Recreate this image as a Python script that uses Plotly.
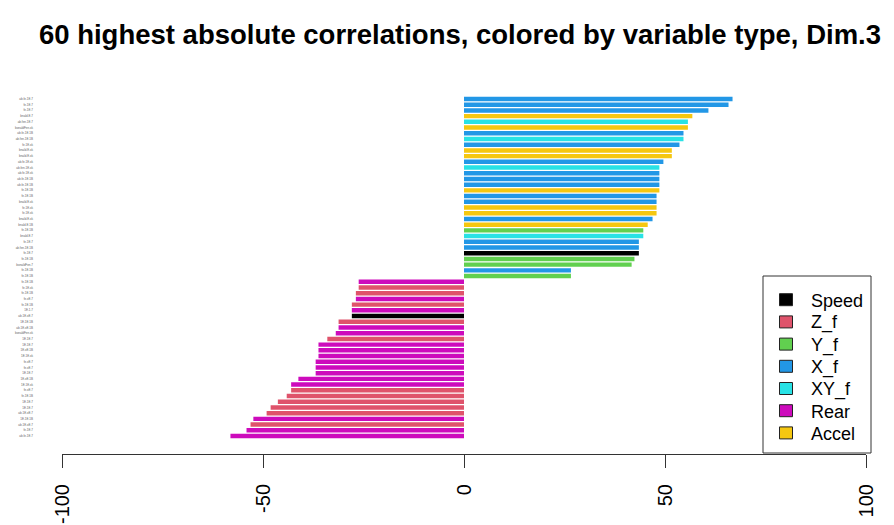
import plotly.graph_objects as go

# ---- data (top to bottom) ----
values = [66.8, 65.8, 60.8, 56.8, 55.7, 55.7, 54.6, 54.6, 53.6, 51.7,
          51.7, 49.6, 48.6, 48.6, 48.6, 48.6, 48.6, 47.9, 47.9, 47.9,
          47.9, 46.9, 45.7, 44.6, 44.6, 43.5, 43.5, 43.5, 42.4, 41.7,
          26.6, 26.6, -26.2, -26.2, -26.9, -26.9, -27.9, -27.9, -27.9, -31.2,
          -31.2, -31.9, -34.0, -36.2, -36.2, -36.2, -36.9, -36.9, -36.9, -41.2,
          -43.0, -43.0, -44.1, -46.3, -48.1, -49.1, -52.4, -53.1, -54.1, -58.1]
types = ["X_f", "X_f", "X_f", "Accel", "XY_f", "Accel", "X_f", "XY_f", "X_f", "Accel",
         "Accel", "X_f", "XY_f", "X_f", "X_f", "X_f", "Accel", "X_f", "X_f", "Accel",
         "Accel", "X_f", "Accel", "Y_f", "XY_f", "X_f", "X_f", "Speed", "Y_f", "Y_f",
         "X_f", "Y_f", "Rear", "Z_f", "Z_f", "Rear", "Z_f", "Rear", "Speed", "Z_f",
         "Rear", "Rear", "Z_f", "Rear", "Rear", "Rear", "Rear", "Rear", "Rear", "Rear",
         "Rear", "Z_f", "Z_f", "Z_f", "Z_f", "Z_f", "Rear", "Z_f", "Rear", "Rear"]
labels = ["ab.fe.1E.7", "fe.1E.7", "fe.1E.7", "bnald.E.7", "ab.fen.1E.7",
          "bonaldFen.xk", "ab.fe.1E.1B", "ab.fen.1E.1B", "fe.1E.xk", "bnald.E.xk",
          "bnald.E.xk", "ab.fe.1E.xk", "ab.fen.1E.xk", "ab.fe.1E.xk", "ab.fe.1E.1B",
          "ab.fe.1E.1B", "fe.1E.1B", "fe.1E.1B", "bnald.E.xk", "fe.1E.xk",
          "fe.1E.xk", "bnald.E.xk", "bnald.E.1B", "fe.1E.1B", "bnald.E.7",
          "fe.1E.7", "ab.fen.1E.1B", "fe.1E.7", "fe.1E.1B", "bonaldFen.7",
          "fe.1E.1B", "fe.1E.1B", "fe.1E.1B", "fe.1E.xk", "fe.1E.1B",
          "fe.xE.7", "fe.1E.1B", "1E.1.7", "ab.1E.xE.7", "1E.1E.1B",
          "ab.1E.xE.1B", "bonaldFen.xk", "1E.1E.7", "1E.1E.7", "1E.xE.1B",
          "1E.1E.xk", "fe.xE.7", "fe.xE.7", "1E.1E.7", "1E.xE.1B",
          "1E.1E.xk", "fe.xE.7", "fe.1E.1B", "1E.1E.7", "1E.1E.7",
          "ab.1E.xE.7", "1E.1E.1B", "ab.1E.xE.7", "fe.1E.7", "ab.fe.1E.7"]
legend_order = ["Speed", "Z_f", "Y_f", "X_f", "XY_f", "Rear", "Accel"]
colors = {"Speed": "#000000", "Z_f": "#DF536B", "Y_f": "#61D04F", "X_f": "#2297E6",
          "XY_f": "#28E2E5", "Rear": "#CD0BBC", "Accel": "#F5C710"}
x_ticks = [-100, -50, 0, 50, 100]
title = "60 highest absolute correlations, colored by variable type, Dim.3"

FONT = "Liberation Sans, Arial, sans-serif"
idx = list(range(len(values)))
fig = go.Figure()
for t in legend_order:
    xs = [v for v, tt in zip(values, types) if tt == t]
    ys = [i for i, tt in zip(idx, types) if tt == t]
    fig.add_trace(go.Bar(x=xs, y=ys, orientation="h", width=0.78,
                         marker=dict(color=colors[t], line=dict(width=0)),
                         showlegend=False, name=t, hoverinfo="x+name"))

# page offset (browser body margin) compensation
OFF = 8
W, H = 894 - OFF, 525 - OFF
# plot area in reference (window) pixels
PL, PR, PT, PB = 62, 866, 90, 454
pitch = (436 - 99) / 59.0
y_top = 0 - (99 - PT) / pitch
y_bot = 59 + (PB - 436) / pitch


def px(xw):
    return (xw - PL) / (PR - PL)


def py(yw):
    return (PB - yw) / (PB - PT)


# legend drawn as box + swatches + labels (window pixel geometry)
shapes = [dict(type="rect", xref="paper", yref="paper",
               x0=px(763), x1=px(871), y0=py(453), y1=py(276),
               line=dict(color="#333", width=1), fillcolor="white", layer="above")]
annotations = []
for k, t in enumerate(legend_order):
    cy = 299.7 + 22.2 * k
    shapes.append(dict(type="rect", xref="paper", yref="paper",
                       x0=px(779.5), x1=px(792.5), y0=py(cy + 6), y1=py(cy - 6),
                       line=dict(color="#222", width=1), fillcolor=colors[t], layer="above"))
    annotations.append(dict(xref="paper", yref="paper", x=px(809), y=py(cy + 1),
                            text=t, showarrow=False, xanchor="left", yanchor="middle",
                            font=dict(size=18, color="black", family=FONT)))

fig.update_layout(
    width=W, height=H, autosize=False,
    margin=dict(l=PL - OFF, r=W - (PR - OFF), t=PT - OFF, b=H - (PB - OFF), pad=0),
    paper_bgcolor="white", plot_bgcolor="white",
    barmode="overlay", showlegend=False,
    font=dict(family=FONT, color="black"),
    title=dict(text="<b>" + title + "</b>", xref="container", x=(460 - OFF) / W, xanchor="center",
               yref="container", y=1 - (34 - OFF) / H, yanchor="middle",
               font=dict(size=27.5, family=FONT, color="black")),
    xaxis=dict(range=[-100, 100], tickvals=x_ticks, ticktext=[str(v) for v in x_ticks],
               tickangle=-90, ticks="outside", ticklen=13, tickcolor="#333", tickwidth=1,
               showline=True, linecolor="#333", linewidth=1, showgrid=False, zeroline=False,
               tickfont=dict(size=20, color="black"), ticklabelstandoff=8, automargin=False),
    yaxis=dict(range=[y_bot, y_top], tickvals=idx, ticktext=labels, ticks="",
               showline=False, showgrid=False, zeroline=False,
               tickfont=dict(size=3, color="#666"), ticklabelstandoff=28, automargin=False),
    shapes=shapes,
    annotations=annotations,
)

fig.write_html("out.html")
